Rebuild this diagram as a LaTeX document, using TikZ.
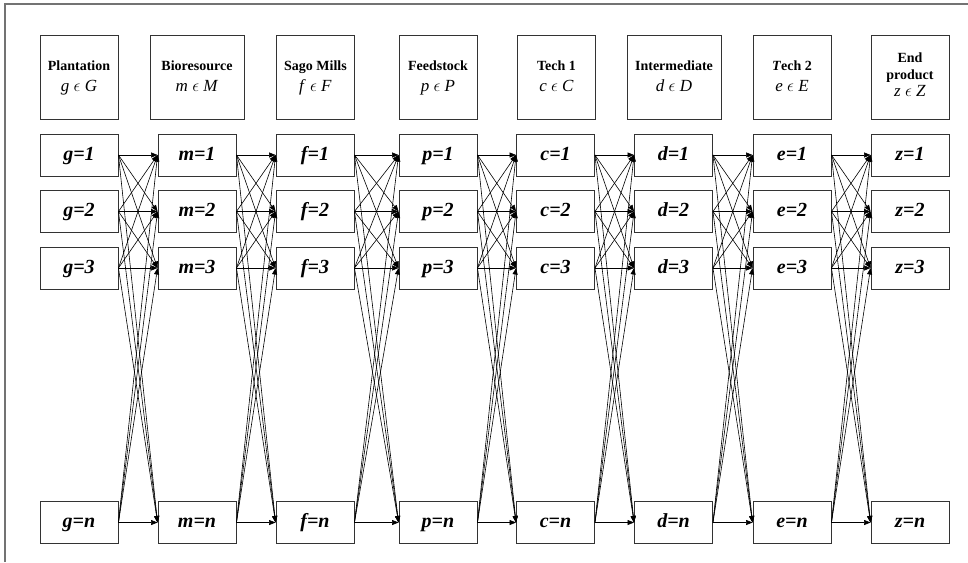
\documentclass[tikz,border=0pt]{standalone}
\usepackage{fontspec}
\setmainfont{Liberation Serif}
\usetikzlibrary{arrows.meta}

\newcommand{\setin}[2]{{\fontsize{17}{20}\selectfont\strut\textit{#1} $\epsilon$ \textit{#2}}}

\begin{document}
\begin{tikzpicture}[
  x=1pt, y=-1pt,
  hdr/.style={rectangle, draw=black!80, line width=0.9pt, minimum width=78pt, minimum height=84pt, align=center, font=\fontsize{14}{21}\selectfont},
  itm/.style={rectangle, draw=black!80, line width=0.9pt, minimum width=78pt, minimum height=42pt, text height=14pt, text depth=4pt, font=\fontsize{20}{22}\selectfont\bfseries\itshape},
  flow/.style={line width=0.6pt, -{Triangle[length=6.5pt, width=5pt]}},
]
  \useasboundingbox (0,0) rectangle (968,562);
  \draw[black!55, line width=1.5pt] (5,562) -- (5,4) -- (968,4);

  % stage headers
  \node[hdr] (hG) at (79,77) {\textbf{\strut Plantation}\\ \setin{g}{G}};
  \node[hdr, minimum width=94pt] (hM) at (197,77) {\textbf{\strut Bioresource}\\ \setin{m}{M}};
  \node[hdr] (hF) at (315.5,77) {\textbf{\strut Sago Mills}\\ \setin{f}{F}};
  \node[hdr] (hP) at (438,77) {\textbf{\strut Feedstock}\\ \setin{p}{P}};
  \node[hdr] (hC) at (556.5,77) {\textbf{\strut Tech 1}\\ \setin{c}{C}};
  \node[hdr, minimum width=94pt] (hD) at (674,77) {\textbf{\strut Intermediate}\\ \setin{d}{D}};
  \node[hdr] (hE) at (792,77) {\textbf{\strut\textit{T}ech 2}\\ \setin{e}{E}};
  \node[hdr, font=\fontsize{14}{17}\selectfont] (hZ) at (910,77) {\textbf{\strut End}\\ \textbf{product}\\ \setin{z}{Z}};

  % index boxes
  \foreach \v/\x in {g/79, m/197, f/315, p/438, c/555.5, d/673.5, e/792, z/910} {
    \foreach \r/\y in {1/155, 2/211.5, 3/268, n/522.5}
      \node[itm] (\v\r) at (\x,\y) {\v=\r};
  }

  % flows between stages
  \foreach \s/\t in {g/m, m/f, f/p, p/c, c/d, d/e, e/z}
    \foreach \i in {1,2,3,n}
      \foreach \j in {1,2,3,n}
        \draw[flow] (\s\i.east) -- (\t\j.west);
\end{tikzpicture}
\end{document}
